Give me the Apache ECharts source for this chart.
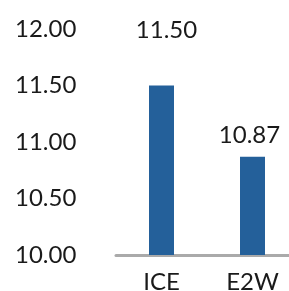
<!DOCTYPE html>
<html>
<head>
<meta charset="utf-8">
<script src="https://cdn.jsdelivr.net/npm/echarts@6/dist/echarts.min.js"></script>
<style>
  html, body { margin: 0; padding: 0; background: #fff; }
  #chart { width: 289px; height: 291px; }
</style>
</head>
<body>
<div id="chart"></div>
<script>
var categories = ['ICE', 'E2W']
var values = [11.50, 10.87]
var yMin = 10
var yMax = 12
var yStep = 0.5

var chart = echarts.init(document.getElementById('chart'))
chart.setOption({
  animation: false,
  textStyle: { fontFamily: 'Lato' },
  grid: {
    left: 116,
    right: -9,
    top: 29,
    bottom: 36,
    outerBoundsMode: 'none'
  },
  xAxis: {
    type: 'category',
    data: categories,
    axisLine: { lineStyle: { color: '#aaaaaa', width: 3 } },
    axisTick: { show: false },
    axisLabel: { color: '#1a1a1a', fontSize: 24, margin: 15 }
  },
  yAxis: {
    type: 'value',
    min: yMin,
    max: yMax,
    interval: yStep,
    splitLine: { show: false },
    axisLine: { show: false },
    axisTick: { show: false },
    axisLabel: {
      color: '#1a1a1a',
      fontSize: 24,
      align: 'left',
      margin: 101,
      formatter: function (v) { return v.toFixed(2) }
    }
  },
  series: [{
    type: 'bar',
    barWidth: 25,
    itemStyle: { color: '#24609a' },
    label: {
      show: true,
      position: 'top',
      distance: 0,
      color: '#1a1a1a',
      fontSize: 24,
      formatter: function (p) { return p.value.toFixed(2) }
    },
    data: [
      { value: values[0], label: { offset: [5, -43] } },
      { value: values[1], label: { offset: [-3, -9] } }
    ]
  }]
})
</script>
</body>
</html>
